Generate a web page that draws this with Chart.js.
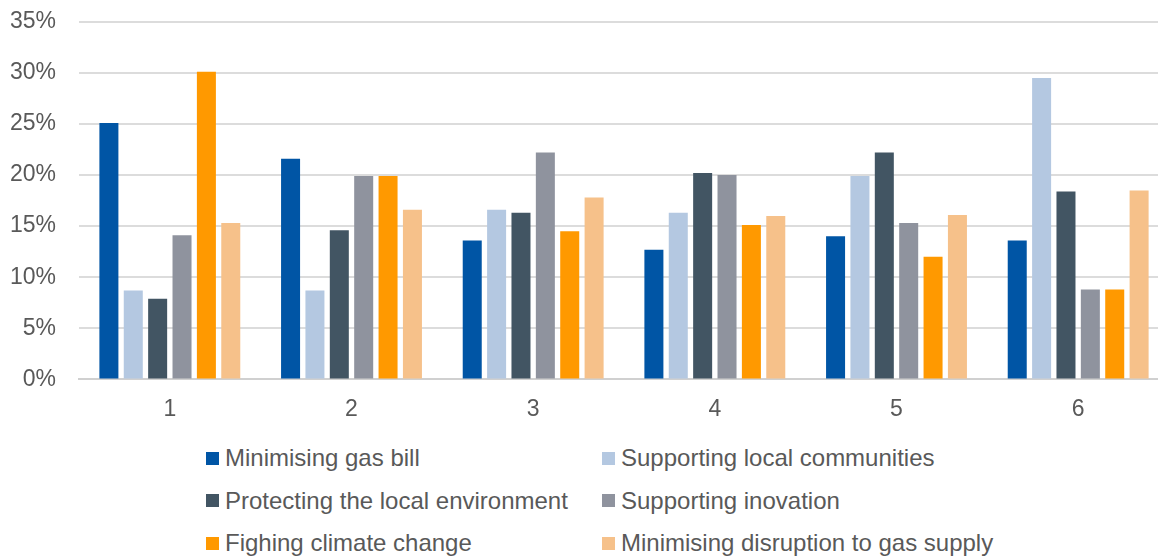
<!DOCTYPE html>
<html>
<head>
<meta charset="utf-8">
<script src="https://cdn.jsdelivr.net/npm/chart.js@4.4.0/dist/chart.umd.min.js"></script>
<style>
  body { margin: 0; background: #fff; overflow: hidden; width: 1158px; height: 559px; position: relative; }
  #wrap { position: absolute; left: 0; top: -15px; width: 1172px; height: 458px; }
  #legend {
    position: absolute; left: 206px; top: 444px;
    display: grid; grid-template-columns: 396px auto; grid-auto-rows: 42.5px;
    font: 24px "Liberation Sans", Arial, sans-serif; color: #595959;
  }
  .item { display: flex; align-items: center; height: 28px; white-space: nowrap; }
  .box { width: 13px; height: 13px; margin-right: 6px; flex: none; }
</style>
</head>
<body>
<div id="wrap"><canvas id="myBarChart"></canvas></div>
<div id="legend"></div>
<script>
var categories = ["1", "2", "3", "4", "5", "6"];
var yTicks = [0, 5, 10, 15, 20, 25, 30, 35];

var seriesNames = [
  "Minimising gas bill",
  "Supporting local communities",
  "Protecting the local environment",
  "Supporting inovation",
  "Fighing climate change",
  "Minimising disruption to gas supply"
];
var seriesColors = ["#0055a5", "#b4c8e1", "#425563", "#8f939e", "#ff9900", "#f6c18a"];

var gasBill     = [25.1, 21.6, 13.6, 12.7, 14.0, 13.6];
var communities = [8.7, 8.7, 16.6, 16.3, 19.9, 29.5];
var environment = [7.9, 14.6, 16.3, 20.2, 22.2, 18.4];
var inovation   = [14.1, 19.9, 22.2, 20.0, 15.3, 8.8];
var climate     = [30.1, 19.9, 14.5, 15.1, 12.0, 8.8];
var disruption  = [15.3, 16.6, 17.8, 16.0, 16.1, 18.5];

var seriesValues = [gasBill, communities, environment, inovation, climate, disruption];

var textColor = "#595959";
var fontFamily = '"Liberation Sans", Arial, sans-serif';

var datasets = seriesNames.map(function (name, i) {
  return {
    label: name,
    data: seriesValues[i],
    backgroundColor: seriesColors[i],
    barPercentage: 0.78,
    categoryPercentage: 0.805
  };
});

var ctx = document.getElementById("myBarChart");

var myBarChart = new Chart(ctx, {
  type: 'bar',
  data: {
    labels: categories,
    datasets: datasets
  },
  options: {
    responsive: true,
    maintainAspectRatio: false,
    animation: false,
    layout: {
      padding: { left: 11, top: 7, right: 3, bottom: 4 }
    },
    plugins: {
      legend: { display: false },
      tooltip: { enabled: false }
    },
    scales: {
      x: {
        grid: { display: false, drawTicks: false },
        border: { display: true, color: '#d0d0d0', width: 2 },
        ticks: {
          color: textColor,
          padding: 16,
          font: { family: fontFamily, size: 23 }
        }
      },
      y: {
        min: 0,
        max: 35,
        afterBuildTicks: function (scale) {
          scale.ticks = yTicks.map(function (v) { return { value: v }; });
        },
        afterFit: function (scale) {
          scale.width = 68;
        },
        grid: { color: '#dcdcdc', lineWidth: 2, drawTicks: false },
        border: { display: false },
        ticks: {
          color: textColor,
          padding: 23,
          font: { family: fontFamily, size: 23 },
          callback: function (value) { return value + '%'; }
        }
      }
    }
  }
});

// two-column legend under the chart
var legend = document.getElementById("legend");
seriesNames.forEach(function (name, i) {
  var item = document.createElement("div");
  item.className = "item";
  var box = document.createElement("span");
  box.className = "box";
  box.style.background = seriesColors[i];
  var txt = document.createElement("span");
  txt.textContent = name;
  item.appendChild(box);
  item.appendChild(txt);
  legend.appendChild(item);
});
</script>
</body>
</html>
